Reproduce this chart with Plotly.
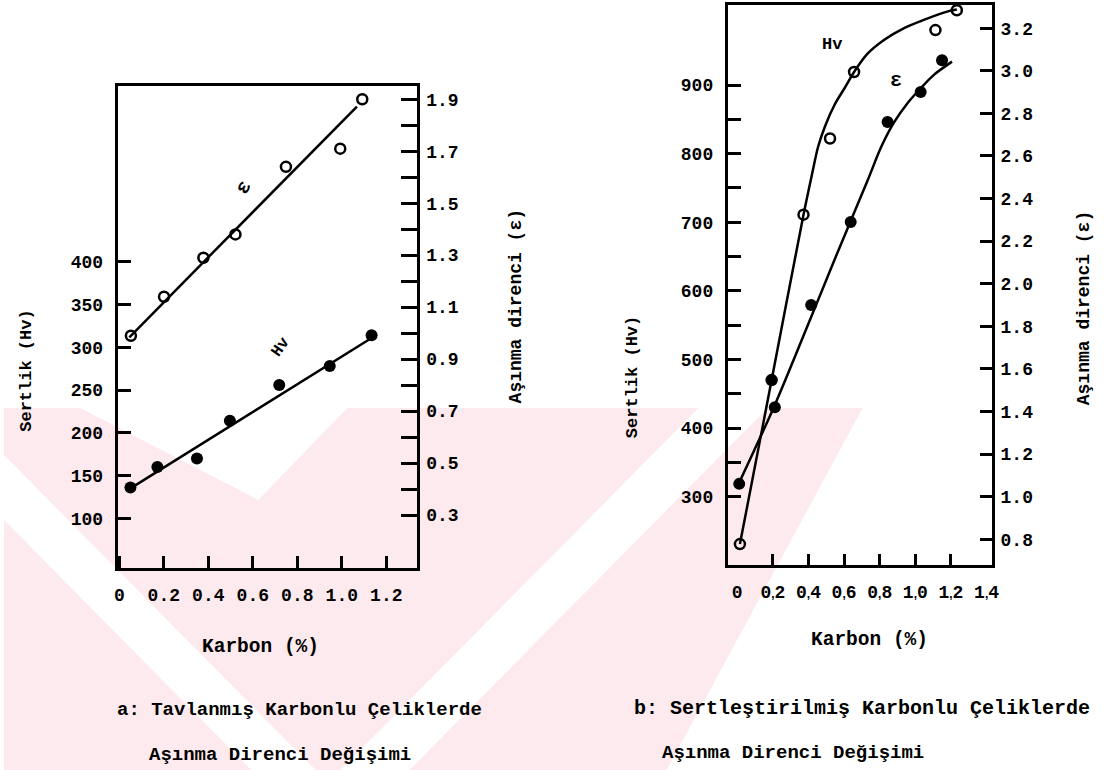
import plotly.graph_objects as go

# ---------------- data ----------------
# Panel a: annealed carbon steels
hv_a_x = [0.05, 0.171, 0.349, 0.497, 0.719, 0.946, 1.134]
hv_a = [136, 160, 170, 214, 256, 278, 314]
hv_a_fit_x = [0.05, 1.141]
hv_a_fit = [135, 312]

eps_a_x = [0.052, 0.201, 0.378, 0.522, 0.749, 0.993, 1.092]
eps_a = [0.99, 1.14, 1.29, 1.38, 1.64, 1.71, 1.90]
eps_a_fit_x = [0.045, 1.068]
eps_a_fit = [0.984, 1.872]

# Panel b: hardened carbon steels
hv_b_x = [0.015, 0.193, 0.372, 0.521, 0.656, 1.113, 1.233]
hv_b = [231, 470, 711, 822, 919, 980, 1009]
hv_b_symbols = ["circle-open", "circle", "circle-open", "circle-open",
                "circle-open", "circle-open", "circle-open"]
hv_b_curve_x = [0.015, 0.193, 0.372, 0.419, 0.454, 0.493, 0.548, 0.604, 0.656,
                0.733, 0.826, 0.937, 1.048, 1.178, 1.233]
hv_b_curve = [231, 470, 711, 769, 810, 840, 872, 896, 919,
              946, 966, 983, 995, 1007, 1010]

eps_b_x = [0.011, 0.211, 0.415, 0.637, 0.844, 1.03, 1.15]
eps_b = [1.06, 1.42, 1.90, 2.29, 2.76, 2.90, 3.05]
eps_b_curve_x = [0.011, 0.211, 0.415, 0.548, 0.637, 0.733, 0.808, 0.882,
                 0.956, 1.03, 1.104, 1.206]
eps_b_curve = [1.066, 1.431, 1.844, 2.116, 2.295, 2.487, 2.642, 2.76,
               2.848, 2.918, 2.981, 3.043]

# tick labels
xa_ticks = [0, 0.2, 0.4, 0.6, 0.8, 1.0, 1.2]
xa_labels = ["0", "0.2", "0.4", "0.6", "0.8", "1.0", "1.2"]
xb_ticks = [0, 0.2, 0.4, 0.6, 0.8, 1.0, 1.2, 1.4]
xb_digits = [("0", ""), ("0", "2"), ("0", "4"), ("0", "6"), ("0", "8"), ("1", "0"), ("1", "2"), ("1", "4")]
ya_ticks = [100, 150, 200, 250, 300, 350, 400]
ya2_ticks = [round(0.3 + 0.1 * i, 1) for i in range(17)]
ya2_labels = [f"{v:.1f}" if round(v * 10) % 2 == 1 else "" for v in ya2_ticks]
yb_ticks = list(range(300, 901, 50))
yb_labels = [str(v) if v % 100 == 0 else "" for v in yb_ticks]
yb2_ticks = [round(0.8 + 0.2 * i, 1) for i in range(13)]
yb2_labels = [f"{v:.1f}" for v in yb2_ticks]

# decimal-comma labels with a small, narrow comma as in the typed original
COMMA = "<span style='font-family:Liberation Sans;font-size:12px'>,</span>"
xb_labels = [a if not b else a + COMMA + b for a, b in xb_digits]

# ---------------- figure ----------------
W, H = 1114, 770


def px(x):
    return x / W


def py(y):
    return 1 - y / H


FONT = "Liberation Mono"
tickfont = dict(family=FONT, size=18, color="black", weight="bold")
LW = 3

fig = go.Figure()

mk_open = dict(symbol="circle-open", size=10, color="black", line=dict(width=2.5, color="black"))
mk_fill = dict(symbol="circle", size=12, color="black")

# panel a
fig.add_trace(go.Scatter(x=eps_a_fit_x, y=eps_a_fit, mode="lines", line=dict(color="black", width=2.5),
                         xaxis="x", yaxis="y2", showlegend=False))
fig.add_trace(go.Scatter(x=eps_a_x, y=eps_a, mode="markers", marker=mk_open,
                         xaxis="x", yaxis="y2", showlegend=False))
fig.add_trace(go.Scatter(x=hv_a_fit_x, y=hv_a_fit, mode="lines", line=dict(color="black", width=2.5),
                         xaxis="x", yaxis="y", showlegend=False))
fig.add_trace(go.Scatter(x=hv_a_x, y=hv_a, mode="markers", marker=mk_fill,
                         xaxis="x", yaxis="y", showlegend=False))

# panel b
fig.add_trace(go.Scatter(x=hv_b_curve_x, y=hv_b_curve, mode="lines",
                         line=dict(color="black", width=2.5, shape="spline", smoothing=0.8),
                         xaxis="x2", yaxis="y3", showlegend=False))
fig.add_trace(go.Scatter(x=hv_b_x, y=hv_b, mode="markers",
                         marker=dict(symbol=hv_b_symbols, size=10, color="black",
                                     line=dict(width=2.5, color="black")),
                         xaxis="x2", yaxis="y3", showlegend=False))
fig.add_trace(go.Scatter(x=eps_b_curve_x, y=eps_b_curve, mode="lines",
                         line=dict(color="black", width=2.5, shape="spline", smoothing=0.8),
                         xaxis="x2", yaxis="y4", showlegend=False))
fig.add_trace(go.Scatter(x=eps_b_x, y=eps_b, mode="markers", marker=mk_fill,
                         xaxis="x2", yaxis="y4", showlegend=False))

axis_common = dict(showline=True, linecolor="black", linewidth=LW, showgrid=False, zeroline=False,
                   ticks="inside", tickcolor="black", tickwidth=LW, tickfont=tickfont,
                   ticklabelstandoff=8)

fig.update_layout(
    width=W, height=H, margin=dict(l=0, r=0, t=0, b=0),
    paper_bgcolor="white", plot_bgcolor="rgba(0,0,0,0)",
    showlegend=False,
    xaxis=dict(**axis_common, domain=[px(115), px(417.7)], range=[-0.007, 1.339], anchor="y",
               mirror=True, tickmode="array", tickvals=xa_ticks, ticktext=xa_labels, ticklen=12),
    yaxis=dict(**axis_common, domain=[py(568.3), py(86)], range=[41.5, 605.6], anchor="x",
               mirror=True, tickmode="array", tickvals=ya_ticks, ticklen=13),
    yaxis2=dict(**{**axis_common, "showline": False}, overlaying="y", side="right", anchor="x",
                range=[0.095, 1.951], tickmode="array", tickvals=ya2_ticks, ticktext=ya2_labels,
                ticklen=16),
    xaxis2=dict(**{**axis_common, "ticks": ""}, domain=[px(731.7), px(998.3)], range=[-0.053, 1.428],
                anchor="y3", mirror=True, tickmode="array", tickvals=xb_ticks, ticktext=xb_labels,
                minor=dict(tickmode="array", tickvals=[0.2, 0.4, 0.6, 0.8, 1.0, 1.2], ticks="inside",
                           ticklen=11, tickwidth=LW, tickcolor="black")),
    yaxis3=dict(**axis_common, domain=[py(565), py(5)], range=[200.5, 1016.6], anchor="x2",
                mirror=True, tickmode="array", tickvals=yb_ticks, ticktext=yb_labels, ticklen=13),
    yaxis4=dict(**{**axis_common, "showline": False}, overlaying="y3", side="right", anchor="x2",
                range=[0.679, 3.309], tickmode="array", tickvals=yb2_ticks, ticktext=yb2_labels,
                ticklen=12),
)


def note(x, y, text, angle=0, xanchor="center", size=18):
    fig.add_annotation(x=px(x), y=py(y), xref="paper", yref="paper", text=text, showarrow=False,
                       textangle=angle, xanchor=xanchor, yanchor="middle",
                       font=dict(family=FONT, size=size, color="black", weight="bold"))


# in-plot labels
note(242, 187, "ε", angle=-60, size=20)
note(280, 347, "Hv", angle=-55, size=16)
note(837, 45, "Hv", size=17)
note(902, 80, "ε", size=20)

# axis titles
note(22, 371, "Sertlik (Hv)", angle=-90, size=17)
note(518, 306, "Aşınma direnci (ε)", angle=-90, size=18)
note(259, 647, "Karbon (%)", size=19.5)
note(635, 377, "Sertlik (Hv)", angle=-90, size=17)
note(1092, 308, "Aşınma direnci (ε)", angle=-90, size=18)
note(875, 640, "Karbon (%)", size=19.5)

# captions
note(112, 710, "a: Tavlanmış Karbonlu Çeliklerde", xanchor="left", size=19)
note(145, 755, "Aşınma Direnci Değişimi", xanchor="left", size=19)
note(635, 708, "b: Sertleştirilmiş Karbonlu Çeliklerde", xanchor="left", size=20)
note(663, 753, "Aşınma Direnci Değişimi", xanchor="left", size=19)

# faint pink watermark in the background
PINK = "#fdeaee"


def poly(points, color):
    path = "M " + " L ".join(f"{px(x):.5f},{py(y):.5f}" for x, y in points) + " Z"
    fig.add_shape(type="path", path=path, xref="paper", yref="paper", fillcolor=color,
                  line=dict(width=0), layer="below")


poly([(0, 408), (868, 408), (670, 770), (0, 770)], PINK)
poly([(77, 408), (347, 408), (257, 500)], "white")
poly([(0, 455), (0, 520), (250, 770), (315, 770)], "white")
poly([(340, 770), (410, 770), (772, 408), (702, 408)], "white")

fig.write_html("out.html", config={"displayModeBar": False},
               post_script="document.body.style.margin='0';")
